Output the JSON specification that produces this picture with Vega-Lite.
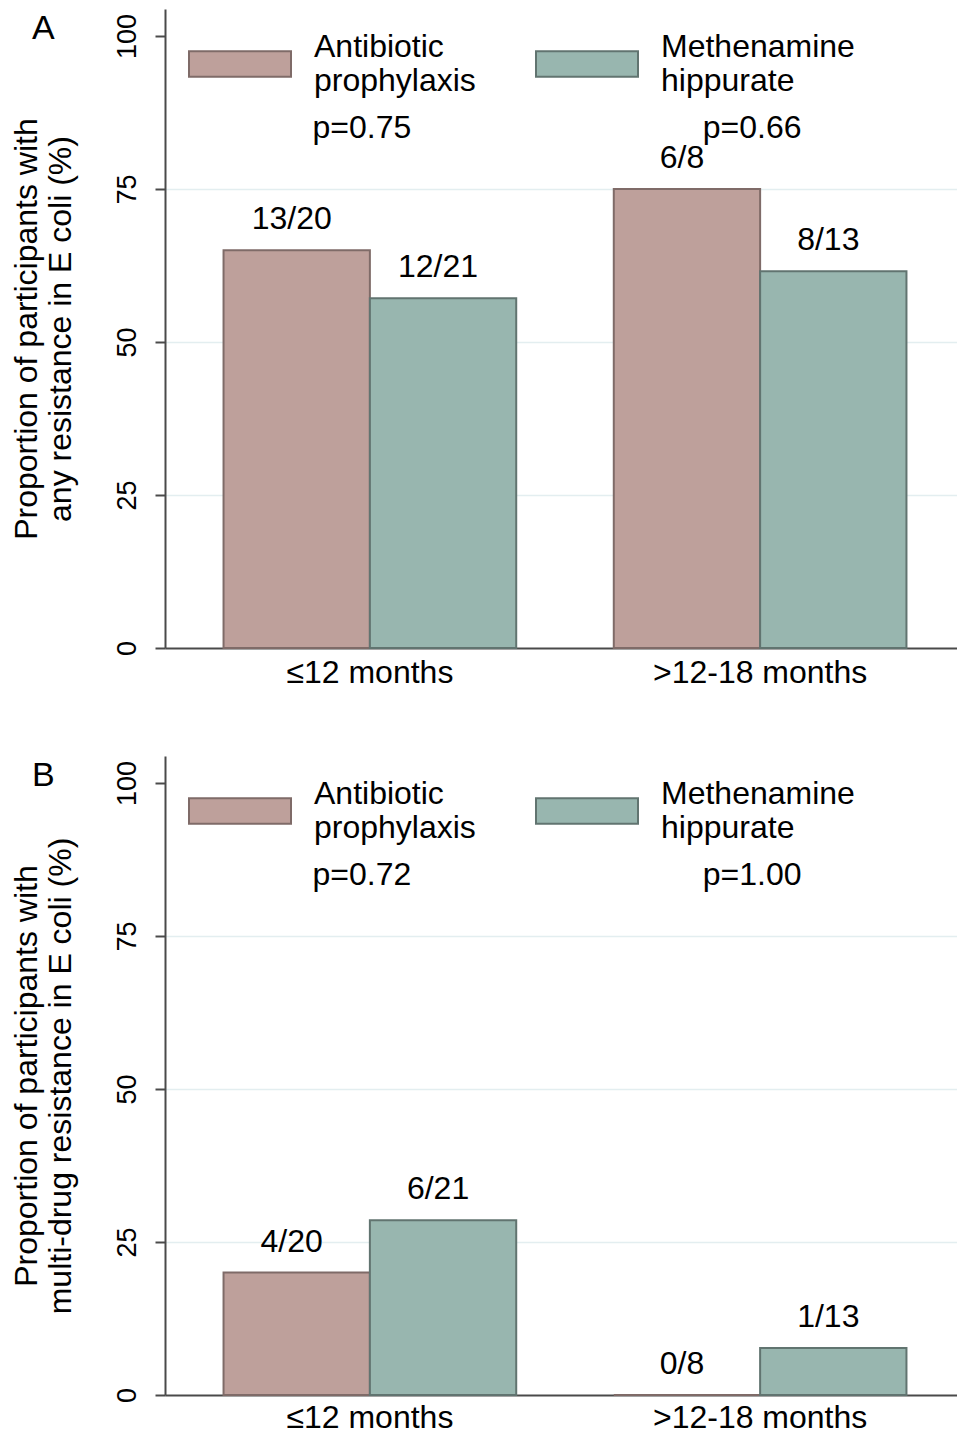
{
  "$schema": "https://vega.github.io/schema/vega-lite/v6.json",
  "background": "white",
  "padding": {"left": 10, "top": 9, "right": 0, "bottom": 0},
  "config": {
    "font": "Liberation Sans",
    "view": {"stroke": null},
    "axis": {"domainColor": "#4a4a4a", "tickColor": "#4a4a4a", "labelColor": "#000000", "titleColor": "#000000", "domainWidth": 2, "tickWidth": 2},
    "legend": {"title": null, "orient": "none", "legendX": 23, "legendY": 3, "direction": "horizontal", "columns": 2, "symbolType": "M-1,-0.25H1V0.25H-1Z", "symbolSize": 10404, "symbolStrokeWidth": 2, "symbolOpacity": 1, "labelFontSize": 32, "labelColor": "#000000", "labelOffset": 22, "labelBaseline": "bottom", "columnPadding": 56, "labelLimit": 400},
    "concat": {"spacing": 68}
  },
  "datasets": {
    "resA": [
      {"period": "≤12 months", "trt": "Antibiotic prophylaxis", "pct": 65, "lab": "13/20"},
      {"period": "≤12 months", "trt": "Methenamine hippurate", "pct": 57.14, "lab": "12/21"},
      {"period": ">12-18 months", "trt": "Antibiotic prophylaxis", "pct": 75, "lab": "6/8"},
      {"period": ">12-18 months", "trt": "Methenamine hippurate", "pct": 61.54, "lab": "8/13"}
    ],
    "resB": [
      {"period": "≤12 months", "trt": "Antibiotic prophylaxis", "pct": 20, "lab": "4/20"},
      {"period": "≤12 months", "trt": "Methenamine hippurate", "pct": 28.57, "lab": "6/21"},
      {"period": ">12-18 months", "trt": "Antibiotic prophylaxis", "pct": 0, "lab": "0/8"},
      {"period": ">12-18 months", "trt": "Methenamine hippurate", "pct": 7.69, "lab": "1/13"}
    ],
    "pA": [
      {"period": "≤12 months", "p": "p=0.75"},
      {"period": ">12-18 months", "p": "p=0.66"}
    ],
    "pB": [
      {"period": "≤12 months", "p": "p=0.72"},
      {"period": ">12-18 months", "p": "p=1.00"}
    ]
  },
  "resolve": {"scale": {"color": "independent", "stroke": "independent"}, "legend": {"color": "independent", "stroke": "independent"}},
  "vconcat": [
    {
      "title": {"text": "A", "anchor": "start", "frame": "bounds", "fontSize": 34, "fontWeight": "normal", "baseline": "top", "offset": -37, "dx": 22},
      "width": 800,
      "height": 639,
      "layer": [
        {
          "data": {"name": "resA"},
          "mark": {"type": "bar", "strokeWidth": 2},
          "encoding": {
            "x": {"field": "period", "type": "nominal", "sort": ["≤12 months", ">12-18 months"], "scale": {"paddingInner": 0.25, "paddingOuter": 0.15}, "axis": {"title": null, "labelAngle": 0, "ticks": false, "labelFontSize": 32, "labelPadding": 9, "labelLimit": 400}},
            "xOffset": {"field": "trt", "type": "nominal", "sort": ["Antibiotic prophylaxis", "Methenamine hippurate"], "scale": {"paddingInner": 0, "paddingOuter": 0}},
            "y": {"field": "pct", "type": "quantitative", "scale": {"domain": [0, 104.4], "nice": false}, "axis": {"values": [0, 25, 50, 75, 100], "title": ["Proportion of participants with", "any resistance in E coli (%)"], "titleFontSize": 32, "titleFontWeight": "normal", "titlePadding": 36, "labelAngle": 270, "labelAlign": "center", "labelBaseline": "bottom", "labelFontSize": 27, "labelPadding": 14, "tickSize": 10, "grid": true, "gridWidth": 1.5, "gridColor": {"condition": {"test": "datum.value === 100 || datum.value === 0", "value": "transparent"}, "value": "#e3eef0"}}},
            "color": {"field": "trt", "type": "nominal", "scale": {"domain": ["Antibiotic prophylaxis", "Methenamine hippurate"], "range": ["#bea09b", "#98b6af"]}, "legend": {"labelExpr": "datum.label == 'Antibiotic prophylaxis' ? ['Antibiotic', 'prophylaxis'] : ['Methenamine', 'hippurate']"}},
            "stroke": {"field": "trt", "type": "nominal", "scale": {"domain": ["Antibiotic prophylaxis", "Methenamine hippurate"], "range": ["#7f6b68", "#617470"]}, "legend": {"labelExpr": "datum.label == 'Antibiotic prophylaxis' ? ['Antibiotic', 'prophylaxis'] : ['Methenamine', 'hippurate']"}}
          }
        },
        {
          "data": {"name": "resA"},
          "mark": {"type": "text", "fontSize": 32, "dy": -31, "dx": -5, "baseline": "middle"},
          "encoding": {
            "x": {"field": "period", "type": "nominal", "sort": ["≤12 months", ">12-18 months"]},
            "xOffset": {"field": "trt", "type": "nominal", "sort": ["Antibiotic prophylaxis", "Methenamine hippurate"]},
            "y": {"field": "pct", "type": "quantitative"},
            "text": {"field": "lab"}
          }
        },
        {
          "data": {"name": "pA"},
          "mark": {"type": "text", "fontSize": 32, "dx": -8, "baseline": "middle"},
          "encoding": {
            "x": {"field": "period", "type": "nominal", "sort": ["≤12 months", ">12-18 months"]},
            "y": {"datum": 85, "type": "quantitative"},
            "text": {"field": "p"}
          }
        }
      ]
    },
    {
      "title": {"text": "B", "anchor": "start", "frame": "bounds", "fontSize": 34, "fontWeight": "normal", "baseline": "top", "offset": -37, "dx": 22},
      "width": 800,
      "height": 639,
      "layer": [
        {
          "data": {"name": "resB"},
          "mark": {"type": "bar", "strokeWidth": 2},
          "encoding": {
            "x": {"field": "period", "type": "nominal", "sort": ["≤12 months", ">12-18 months"], "scale": {"paddingInner": 0.25, "paddingOuter": 0.15}, "axis": {"title": null, "labelAngle": 0, "ticks": false, "labelFontSize": 32, "labelPadding": 7, "labelLimit": 400}},
            "xOffset": {"field": "trt", "type": "nominal", "sort": ["Antibiotic prophylaxis", "Methenamine hippurate"], "scale": {"paddingInner": 0, "paddingOuter": 0}},
            "y": {"field": "pct", "type": "quantitative", "scale": {"domain": [0, 104.4], "nice": false}, "axis": {"values": [0, 25, 50, 75, 100], "title": ["Proportion of participants with", "multi-drug resistance in E coli (%)"], "titleFontSize": 32, "titleFontWeight": "normal", "titlePadding": 36, "labelAngle": 270, "labelAlign": "center", "labelBaseline": "bottom", "labelFontSize": 27, "labelPadding": 14, "tickSize": 10, "grid": true, "gridWidth": 1.5, "gridColor": {"condition": {"test": "datum.value === 100 || datum.value === 0", "value": "transparent"}, "value": "#e3eef0"}}},
            "color": {"field": "trt", "type": "nominal", "scale": {"domain": ["Antibiotic prophylaxis", "Methenamine hippurate"], "range": ["#bea09b", "#98b6af"]}, "legend": {"labelExpr": "datum.label == 'Antibiotic prophylaxis' ? ['Antibiotic', 'prophylaxis'] : ['Methenamine', 'hippurate']"}},
            "stroke": {"field": "trt", "type": "nominal", "scale": {"domain": ["Antibiotic prophylaxis", "Methenamine hippurate"], "range": ["#7f6b68", "#617470"]}, "legend": {"labelExpr": "datum.label == 'Antibiotic prophylaxis' ? ['Antibiotic', 'prophylaxis'] : ['Methenamine', 'hippurate']"}}
          }
        },
        {
          "data": {"name": "resB"},
          "mark": {"type": "text", "fontSize": 32, "dy": -31, "dx": -5, "baseline": "middle"},
          "encoding": {
            "x": {"field": "period", "type": "nominal", "sort": ["≤12 months", ">12-18 months"]},
            "xOffset": {"field": "trt", "type": "nominal", "sort": ["Antibiotic prophylaxis", "Methenamine hippurate"]},
            "y": {"field": "pct", "type": "quantitative"},
            "text": {"field": "lab"}
          }
        },
        {
          "data": {"name": "pB"},
          "mark": {"type": "text", "fontSize": 32, "dx": -8, "baseline": "middle"},
          "encoding": {
            "x": {"field": "period", "type": "nominal", "sort": ["≤12 months", ">12-18 months"]},
            "y": {"datum": 85, "type": "quantitative"},
            "text": {"field": "p"}
          }
        }
      ]
    }
  ]
}
